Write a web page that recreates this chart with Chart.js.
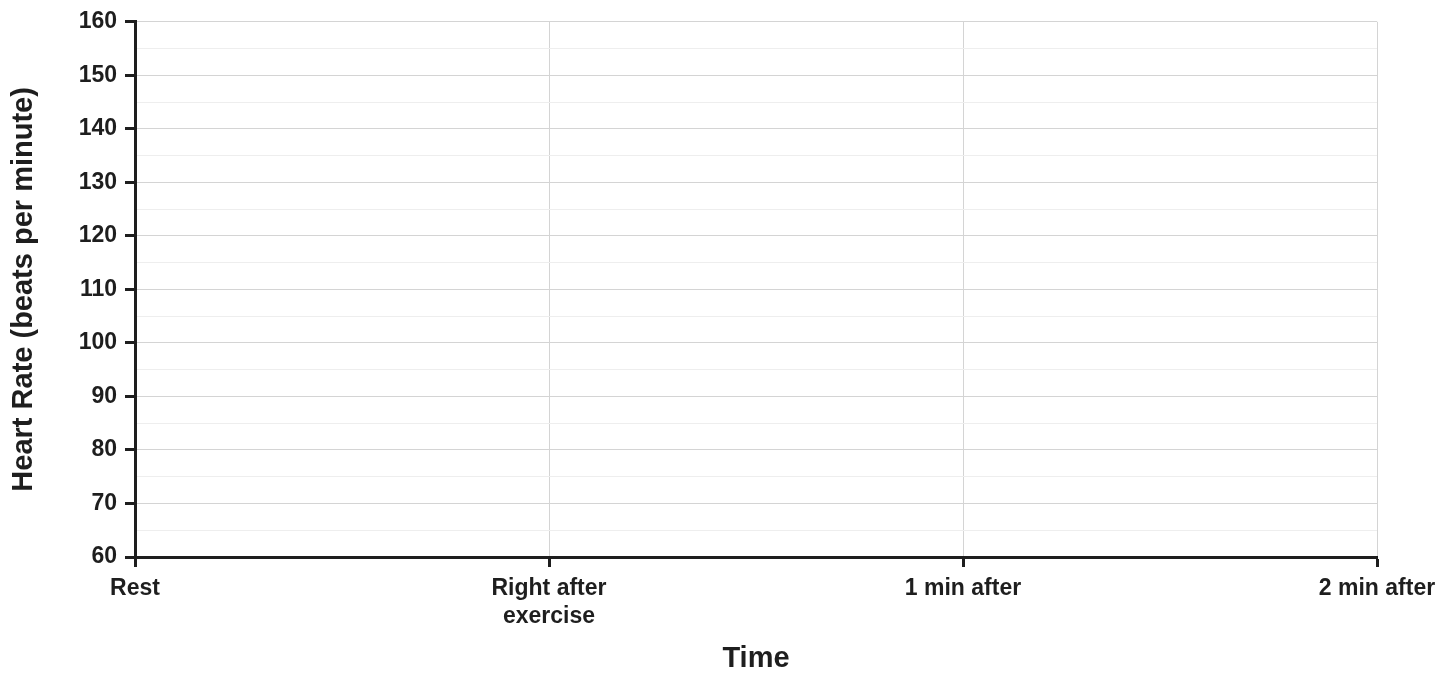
<!DOCTYPE html>
<html>
<head>
<meta charset="utf-8">
<script src="https://cdn.jsdelivr.net/npm/chart.js@4.4.1/dist/chart.umd.min.js"></script>
<style>
  html, body { margin: 0; padding: 0; background: #ffffff; }
  #wrap { width: 1455px; height: 673px; position: relative; }
</style>
</head>
<body>
<div id="wrap"><canvas id="c" width="1455" height="673"></canvas></div>
<script>
// ---- data ----
const categories = ['Rest', ['Right after', 'exercise'], '1 min after', '2 min after'];
const heartRate = [null, null, null, null];   // the reference chart has no plotted values
const yRange = [60, 160];
const yMajorStep = 10;
const yMinorStep = 5;
const xTitle = 'Time';
const yTitle = 'Heart Rate (beats per minute)';

const FONT = "'Liberation Sans', Arial, Helvetica, sans-serif";
const INK = '#1e1e1e';

new Chart(document.getElementById('c'), {
  type: 'line',
  data: {
    labels: categories,
    datasets: [{ label: 'Heart rate', data: heartRate, borderColor: INK, backgroundColor: INK }]
  },
  options: {
    responsive: false,
    animation: false,
    events: [],
    layout: { padding: { top: 21, right: 78, bottom: 0, left: 0 } },
    plugins: { legend: { display: false }, tooltip: { enabled: false } },
    scales: {
      x: {
        type: 'category',
        offset: false,
        afterFit: (s) => { s.height = 116; },
        grid: {
          offset: false,
          color: '#d4d4d4',
          lineWidth: 1,
          tickColor: INK,
          tickWidth: 3,
          tickLength: 10
        },
        border: { display: true, color: INK, width: 3 },
        ticks: {
          color: INK,
          padding: 8,
          maxRotation: 0,
          autoSkip: false,
          font: { family: FONT, size: 23, weight: 'bold', lineHeight: 1.2 }
        },
        title: {
          display: true,
          text: xTitle,
          color: INK,
          padding: { top: 0, bottom: 0 },
          font: { family: FONT, size: 29, weight: 'bold', lineHeight: 1.0 }
        }
      },
      y: {
        min: yRange[0],
        max: yRange[1],
        afterFit: (s) => { s.width = 135; },
        grid: {
          color: (ctx) => (ctx.tick && ctx.tick.value % yMajorStep === 0) ? '#d4d4d4' : '#eeeeee',
          lineWidth: 1,
          tickColor: (ctx) => (ctx.tick && ctx.tick.value % yMajorStep === 0) ? INK : 'rgba(0,0,0,0)',
          tickWidth: 3,
          tickLength: 10
        },
        border: { display: true, color: INK, width: 3 },
        ticks: {
          stepSize: yMinorStep,
          autoSkip: false,
          color: INK,
          padding: 8,
          font: { family: FONT, size: 23, weight: 'bold' },
          callback: (v) => (v % yMajorStep === 0 ? String(v) : '')
        },
        title: {
          display: true,
          text: yTitle,
          color: INK,
          padding: { top: 9, bottom: 0 },
          font: { family: FONT, size: 29, weight: 'bold', lineHeight: 1.0 }
        }
      }
    }
  }
});
</script>
</body>
</html>
